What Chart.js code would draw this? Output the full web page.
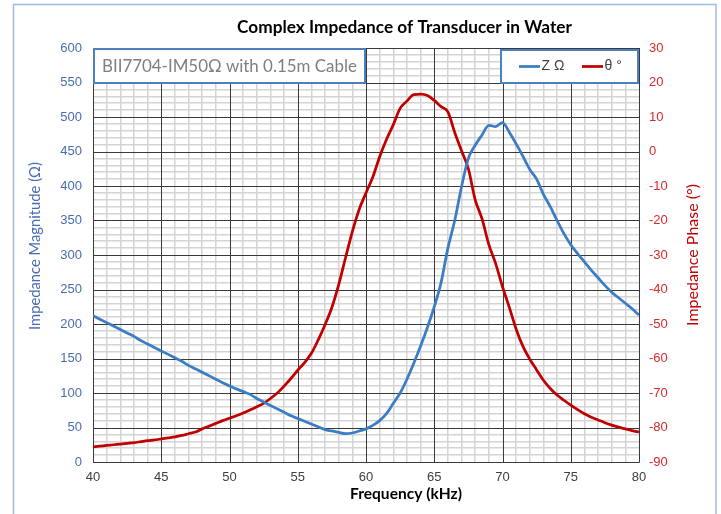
<!DOCTYPE html>
<html>
<head>
<meta charset="utf-8">
<script src="https://cdn.jsdelivr.net/npm/chart.js@4.4.1/dist/chart.umd.min.js"></script>
<style>
  html, body { margin: 0; padding: 0; background: #ffffff; }
  #wrap { width: 721px; height: 514px; position: relative; }
</style>
</head>
<body>
<div id="wrap"><canvas id="c" width="721" height="514"></canvas></div>
<script>
// ---- Data ----
const freqKHz = [
  40, 40.5, 41, 41.5, 42, 42.5, 43, 43.5, 44, 44.5,
  45, 45.5, 46, 46.5, 47, 47.5, 48, 48.5, 49, 49.5,
  50, 50.5, 51, 51.5, 52, 52.5, 53, 53.5, 54, 54.5,
  55, 55.5, 56, 56.5, 57, 57.5, 58, 58.5, 59, 59.5,
  60, 60.5, 61, 61.5, 62, 62.5, 63, 63.5, 64, 64.5,
  65, 65.5, 66, 66.5, 67, 67.5, 68, 68.5, 69, 69.5,
  70, 70.5, 71, 71.5, 72, 72.5, 73, 73.5, 74, 74.5,
  75, 75.5, 76, 76.5, 77, 77.5, 78, 78.5, 79, 79.5, 80
];
const impedanceOhm = [
  212, 207, 202, 197, 192, 187, 182, 176, 171, 166,
  161, 156, 151, 146, 140, 135, 130, 125, 120, 115,
  110, 106, 102, 98, 92, 87, 82, 77, 72, 67,
  63, 59, 55, 51, 47, 45, 43, 41, 42, 45,
  48, 53, 60, 70, 85, 100, 120, 143, 168, 195,
  225, 260, 310, 350, 399, 440, 459, 474, 488, 486,
  492, 478, 461, 443, 424, 410, 388, 370, 350, 331,
  315, 302, 290, 278, 267, 256, 246, 238, 230, 222, 213
];
const phaseDeg = [
  -85.6, -85.4, -85.2, -85.0, -84.8, -84.6, -84.4, -84.1, -83.8, -83.6,
  -83.3, -83.0, -82.7, -82.3, -81.8, -81.3, -80.4, -79.6, -78.8, -78.0,
  -77.3, -76.6, -75.8, -74.9, -74.0, -73.0, -71.6, -70.0, -68.0, -65.8,
  -63.4, -61.2, -58.5, -54.6, -50.2, -45.2, -38.6, -30.8, -23.2, -16.8,
  -12.0, -7.4, -1.5, 3.5, 7.8, 12.5, 14.6, 16.5, 16.6, 16.2,
  14.8, 13.0, 11.5, 5.5, 0.2, -5.0, -14.0, -19.5, -27.0, -32.5,
  -39.2, -45.2, -51.5, -56.5, -60.2, -63.3, -66.3, -68.7, -70.6, -72.1,
  -73.5, -74.8, -76.0, -77.0, -77.8, -78.6, -79.3, -79.9, -80.4, -80.9, -81.3
];
const seriesLabels = ['Z \u03A9', '\u03B8 \u00B0'];
const chartTitle = 'Complex Impedance of Transducer in Water';
const noteText = 'BII7704-IM50\u03A9 with 0.15m Cable';
const xTitle = 'Frequency (kHz)';
const yTitle = 'Impedance Magnitude (\u03A9)';
const y1Title = 'Impedance Phase (\u00B0)';

// ---- Styles ----
const BLUE = '#3b7dc3';
const RED = '#c00000';
const LEFT_TXT = '#4a6db0';
const RIGHT_TXT = '#d62b2b';
const MAJOR = '#3a3a3a';
const MINOR = '#d4d4d4';
const NONE = 'rgba(0,0,0,0)';
const FAM = 'Lato, "Open Sans", sans-serif';
const TICKFAM = '"Liberation Sans", Arial, sans-serif';

function fitFont(ctx, text, weight, family, targetW) {
  ctx.font = weight + ' 20px ' + family;
  const w = ctx.measureText(text).width;
  const size = 20 * targetW / w;
  return weight + ' ' + size.toFixed(2) + 'px ' + family;
}

// Draw major grid lines over the minor ones (using the chart's own scales)
const majorGrid = {
  id: 'majorGrid',
  beforeDatasetsDraw(chart) {
    const ctx = chart.ctx;
    const ca = chart.chartArea;
    const xs = chart.scales.x, ys = chart.scales.y;
    ctx.save();
    ctx.strokeStyle = MAJOR;
    ctx.lineWidth = 1;
    ctx.beginPath();
    xs.ticks.forEach(t => {
      if (t.value % 5 === 0) {
        const px = Math.round(xs.getPixelForValue(t.value)) + 0.5;
        ctx.moveTo(px, ca.top); ctx.lineTo(px, ca.bottom + 0.5);
      }
    });
    ys.ticks.forEach(t => {
      if (t.value % 50 === 0) {
        const py = Math.round(ys.getPixelForValue(t.value)) + 0.5;
        ctx.moveTo(ca.left, py); ctx.lineTo(ca.right + 0.5, py);
      }
    });
    ctx.stroke();
    ctx.restore();
  }
};

const decor = {
  id: 'decor',
  beforeDraw(chart) {
    const ctx = chart.ctx;
    ctx.save();
    ctx.fillStyle = '#ffffff';
    ctx.fillRect(0, 0, chart.width, chart.height);
    ctx.strokeStyle = '#9dbde3';
    ctx.lineWidth = 1.5;
    ctx.strokeRect(13.5, 4.5, 702.5, 530);
    ctx.restore();
  },
  afterDraw(chart) {
    const ctx = chart.ctx;
    const ca = chart.chartArea;
    ctx.save();
    ctx.textBaseline = 'middle';
    ctx.textAlign = 'center';

    // Title
    ctx.fillStyle = '#000000';
    ctx.font = fitFont(ctx, chartTitle, 'bold', FAM, 335);
    ctx.fillText(chartTitle, 404.5, 27);

    // X title
    ctx.font = fitFont(ctx, xTitle, 'bold', FAM, 112);
    ctx.fillText(xTitle, 406, 494);

    // Left Y title
    ctx.save();
    ctx.translate(35, 246);
    ctx.rotate(-Math.PI / 2);
    ctx.fillStyle = LEFT_TXT;
    ctx.font = fitFont(ctx, yTitle, 'normal', FAM, 168);
    ctx.fillText(yTitle, 0, 0);
    ctx.restore();

    // Right Y title
    ctx.save();
    ctx.translate(693, 255);
    ctx.rotate(-Math.PI / 2);
    ctx.fillStyle = '#c00000';
    ctx.font = fitFont(ctx, y1Title, 'normal', FAM, 142);
    ctx.fillText(y1Title, 0, 0);
    ctx.restore();

    // Annotation box
    ctx.fillStyle = '#ffffff';
    ctx.fillRect(ca.left, ca.top, 272, 35);
    ctx.strokeStyle = '#4a80c0';
    ctx.lineWidth = 2;
    ctx.strokeRect(ca.left + 1, ca.top + 1, 271, 34);
    ctx.fillStyle = '#7f7f7f';
    ctx.font = fitFont(ctx, noteText, 'normal', FAM, 255);
    ctx.textAlign = 'left';
    ctx.fillText(noteText, 102, ca.top + 18.5);

    // Legend box
    const lx = 501, ly = 50, lw = 137, lh = 33;
    ctx.fillStyle = '#ffffff';
    ctx.fillRect(lx, ly, lw, lh);
    ctx.strokeStyle = '#4a80c0';
    ctx.lineWidth = 2;
    ctx.strokeRect(lx, ly, lw, lh);
    const my = 66.5;
    ctx.lineWidth = 2.75;
    ctx.strokeStyle = BLUE;
    ctx.beginPath(); ctx.moveTo(519, my); ctx.lineTo(540, my); ctx.stroke();
    ctx.strokeStyle = RED;
    ctx.beginPath(); ctx.moveTo(582, my); ctx.lineTo(603, my); ctx.stroke();
    ctx.fillStyle = '#404040';
    ctx.font = 'normal 14px ' + TICKFAM;
    ctx.textAlign = 'left';
    ctx.fillText(seriesLabels[0], 541.5, my);
    ctx.fillText(seriesLabels[1], 604.5, my);

    ctx.restore();
  }
};

const gridColorX = (c) => (c.tick && c.tick.value % 5 === 0) ? NONE : MINOR;
const gridColorY = (c) => (c.tick && c.tick.value % 50 === 0) ? NONE : MINOR;

new Chart(document.getElementById('c'), {
  type: 'line',
  data: {
    datasets: [
      {
        label: seriesLabels[0],
        data: freqKHz.map((f, i) => ({ x: f, y: impedanceOhm[i] })),
        borderColor: BLUE,
        borderWidth: 2.75,
        pointRadius: 0,
        cubicInterpolationMode: 'monotone',
        yAxisID: 'y'
      },
      {
        label: seriesLabels[1],
        data: freqKHz.map((f, i) => ({ x: f, y: phaseDeg[i] })),
        borderColor: RED,
        borderWidth: 2.75,
        pointRadius: 0,
        cubicInterpolationMode: 'monotone',
        yAxisID: 'y1'
      }
    ]
  },
  options: {
    responsive: false,
    animation: false,
    devicePixelRatio: 1,
    layout: { padding: { left: 0, right: 0, top: 48, bottom: 0 } },
    plugins: {
      legend: { display: false },
      title: { display: false },
      tooltip: { enabled: false }
    },
    scales: {
      x: {
        type: 'linear',
        min: 40, max: 80,
        afterFit: (s) => { s.height = 52; },
        ticks: {
          stepSize: 1, autoSkip: false, maxRotation: 0, padding: 8,
          color: '#404040', font: { family: TICKFAM, size: 13 },
          callback: (v) => (v % 5 === 0 ? String(v) : '')
        },
        grid: { color: gridColorX, lineWidth: 1.5, drawTicks: false },
        border: { display: false }
      },
      y: {
        position: 'left',
        min: 0, max: 600,
        afterFit: (s) => { s.width = 93; },
        ticks: {
          stepSize: 10, autoSkip: false, padding: 11,
          color: LEFT_TXT, font: { family: TICKFAM, size: 13 },
          callback: (v) => (v % 50 === 0 ? String(v) : '')
        },
        grid: { color: gridColorY, lineWidth: 1.5, drawTicks: false },
        border: { display: false }
      },
      y1: {
        position: 'right',
        min: -90, max: 30,
        afterFit: (s) => { s.width = 82; },
        ticks: {
          stepSize: 10, autoSkip: false, padding: 10,
          color: RIGHT_TXT, font: { family: TICKFAM, size: 13 }
        },
        grid: { display: false, drawTicks: false },
        border: { display: false }
      }
    }
  },
  plugins: [majorGrid, decor]
});
</script>
</body>
</html>
